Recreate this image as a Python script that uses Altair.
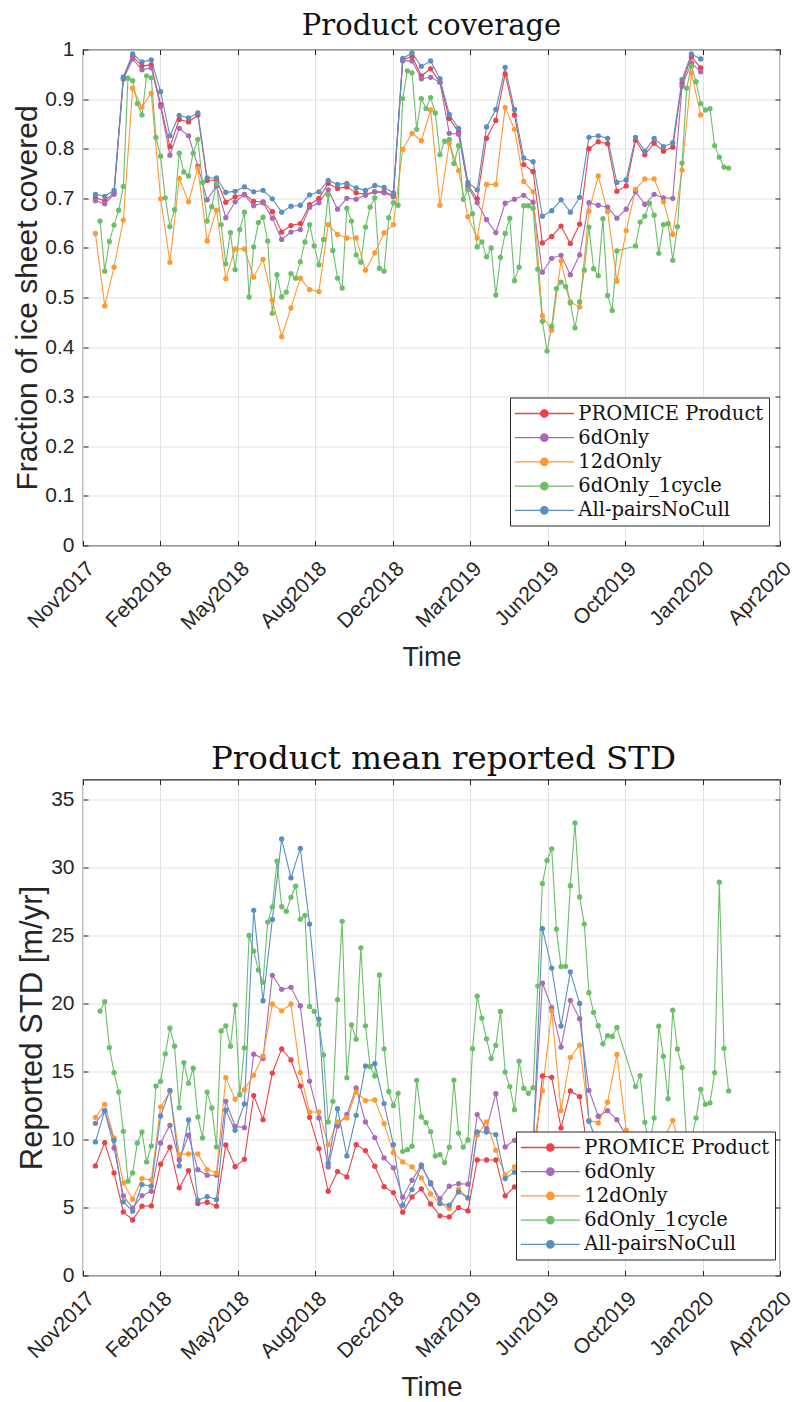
import altair as alt
import pandas as pd

SERIES = ["PROMICE Product", "6dOnly", "12dOnly", "6dOnly_1cycle", "All-pairsNoCull"]
COLORS = ["#e8434a", "#a86bb5", "#ff9a33", "#6cbf6a", "#5b8fbf"]
TICK_LABELS = ["Nov2017", "Feb2018", "May2018", "Aug2018", "Dec2018",
               "Mar2019", "Jun2019", "Oct2019", "Jan2020", "Apr2020"]
TICK_STEP = 99.8      # days between labelled ticks
FIRST_DAY = 16        # days after the first tick of the first acquisition
STEP_12 = 12          # 12-day repeat products
STEP_6 = 6            # 6-day repeat product (6dOnly_1cycle)
GREEN_INDEX = list(range(1, 113)) + list(range(116, 137))

# ---------------- Product coverage (fraction) ----------------
cov_promice = [0.701, 0.695, 0.711, 0.943, 0.986, 0.967, 0.969, 0.889, 0.804, 0.859, 0.854, 0.868, 0.736,
               0.737, 0.692, 0.703, 0.708, 0.694, 0.693, 0.673, 0.632, 0.645, 0.649, 0.687, 0.700,
               0.730, 0.720, 0.723, 0.711, 0.708, 0.713, 0.713, 0.706, 0.979, 0.986, 0.947, 0.961, 0.934,
               0.861, 0.834, 0.727, 0.699, 0.821, 0.857, 0.951, 0.868, 0.768, 0.754, 0.610, 0.623, 0.644,
               0.609, 0.648, 0.800, 0.814, 0.810, 0.714, 0.725, 0.817, 0.788, 0.811, 0.795, 0.803, 0.932,
               0.985, 0.963]
cov_6d = [0.695, 0.689, 0.708, 0.940, 0.981, 0.959, 0.963, 0.885, 0.787, 0.841, 0.826, 0.765, 0.697,
          0.725, 0.661, 0.693, 0.707, 0.685, 0.691, 0.660, 0.617, 0.632, 0.637, 0.682, 0.691,
          0.717, 0.678, 0.700, 0.698, 0.706, 0.713, 0.711, 0.703, 0.977, 0.977, 0.941, 0.944, 0.934,
          0.831, 0.829, 0.723, 0.691, 0.657, 0.631, 0.690, 0.698, 0.706, 0.692, 0.551, 0.579, 0.585,
          0.546, 0.586, 0.691, 0.686, 0.682, 0.660, 0.678, 0.713, 0.688, 0.708, 0.701, 0.700, 0.926,
          0.973, 0.955]
cov_12d = [0.629, 0.483, 0.561, 0.656, 0.922, 0.884, 0.912, 0.699, 0.571, 0.740, 0.693, 0.761, 0.614,
           0.676, 0.538, 0.598, 0.598, 0.541, 0.577, 0.495, 0.421, 0.479, 0.539, 0.516, 0.512,
           0.647, 0.627, 0.620, 0.620, 0.555, 0.590, 0.630, 0.647, 0.799, 0.831, 0.816, 0.878, 0.686,
           0.811, 0.756, 0.663, 0.620, 0.728, 0.728, 0.883, 0.839, 0.734, 0.713, 0.463, 0.434, 0.574,
           0.491, 0.481, 0.674, 0.745, 0.673, 0.533, 0.635, 0.718, 0.739, 0.739, 0.693, 0.627, 0.757,
           0.953, 0.868]
cov_allpairs = [0.708, 0.704, 0.716, 0.945, 0.991, 0.975, 0.979, 0.915, 0.826, 0.867, 0.862, 0.872, 0.741,
                0.741, 0.712, 0.714, 0.723, 0.713, 0.716, 0.699, 0.672, 0.684, 0.686, 0.707, 0.713,
                0.736, 0.728, 0.730, 0.721, 0.716, 0.726, 0.722, 0.711, 0.982, 0.993, 0.966, 0.977, 0.941,
                0.869, 0.841, 0.732, 0.717, 0.844, 0.879, 0.964, 0.879, 0.781, 0.774, 0.664, 0.675, 0.697,
                0.672, 0.702, 0.823, 0.826, 0.821, 0.732, 0.737, 0.823, 0.795, 0.821, 0.804, 0.812, 0.939,
                0.991, 0.981]
cov_6d_1cycle = [0.654, 0.553, 0.613, 0.646, 0.676, 0.724, 0.942, 0.937, 0.891, 0.868, 0.947, 0.943, 0.823,
                 0.785, 0.701, 0.643, 0.677, 0.791, 0.753, 0.745, 0.791, 0.819, 0.732, 0.654, 0.683, 0.730,
                 0.647, 0.568, 0.631, 0.556, 0.637, 0.672, 0.501, 0.602, 0.651, 0.662, 0.614, 0.468, 0.546,
                 0.501, 0.511, 0.548, 0.539, 0.572, 0.612, 0.647, 0.604, 0.566, 0.617,
                 0.707, 0.595, 0.539, 0.519, 0.680, 0.654, 0.586, 0.571, 0.642, 0.682, 0.701, 0.559, 0.553,
                 0.661, 0.691, 0.686, 0.901, 0.957, 0.953, 0.839, 0.901, 0.881, 0.903, 0.872, 0.788, 0.815,
                 0.819, 0.770, 0.806, 0.698, 0.717, 0.669, 0.602, 0.612, 0.582, 0.600, 0.505, 0.581, 0.629,
                 0.660, 0.534, 0.561, 0.685, 0.685, 0.680, 0.557, 0.452, 0.392, 0.442, 0.518, 0.531, 0.522,
                 0.489, 0.439, 0.491, 0.555, 0.642, 0.558, 0.544, 0.659, 0.504, 0.474, 0.594,
                 0.604, 0.652, 0.664, 0.690, 0.666, 0.589, 0.647, 0.649, 0.575, 0.643, 0.771, 0.922, 0.966,
                 0.935, 0.891, 0.878, 0.881, 0.806, 0.783, 0.763, 0.761]

# ---------------- Product mean reported STD (m/yr) ----------------
std_promice = [8.06, 9.78, 7.55, 4.68, 4.09, 5.10, 5.12, 8.19, 9.44, 6.45, 7.72, 5.29, 5.39, 5.10, 9.61,
               8.01, 8.55, 13.24, 11.47, 14.90, 16.67, 15.86, 13.94, 11.64, 9.34,
               6.20, 7.65, 7.25, 9.63, 9.19, 8.04, 6.54, 6.10, 4.66, 5.78, 6.37, 5.27, 4.39, 4.31, 5.00,
               4.75, 8.50, 8.50, 8.50, 5.86, 6.52, 6.90, 7.80, 14.68, 14.58, 10.86,
               13.58, 13.16, 8.60, 8.20, 8.40, 8.60, 7.60, 7.90, 8.30, 8.00, 8.10, 7.70, 8.20, 8.60, 8.30]
std_6d = [11.20, 12.13, 9.39, 5.86, 4.95, 5.88, 6.20, 9.75, 11.05, 8.50, 10.32, 7.79, 7.38, 7.38, 12.82,
          10.98, 10.88, 16.28, 15.96, 22.09, 21.06, 21.21, 19.85, 14.31, 11.59,
          7.99, 11.00, 11.86, 13.80, 11.30, 10.15, 8.65, 7.92, 5.76, 7.01, 8.14, 6.74, 5.66, 6.57, 6.76,
          6.72, 11.84, 10.81, 13.38, 9.46, 9.95, 9.20, 9.60, 21.52, 19.71, 16.81,
          20.25, 18.90, 13.63, 11.72, 12.13, 11.47, 10.30, 9.80, 9.50, 10.00, 9.60, 9.40, 9.00, 8.20, 8.60]
std_12d = [11.64, 12.60, 10.12, 6.81, 5.61, 7.13, 7.03, 12.40, 13.50, 8.90, 8.95, 8.95, 7.79, 7.55, 14.56,
           12.97, 13.68, 14.75, 16.16, 19.98, 19.48, 19.98, 14.93, 12.03, 12.03,
           9.63, 11.30, 11.59, 13.50, 12.87, 12.92, 11.18, 9.04, 8.36, 7.99, 7.18, 6.00, 5.29, 4.93, 6.35,
           5.71, 10.32, 11.30, 9.22, 7.38, 8.00, 8.60, 9.30, 13.60, 19.46, 12.13,
           16.05, 16.96, 11.42, 11.23, 12.75, 16.27, 10.69, 9.60, 9.20, 9.50, 10.00, 11.42, 9.00, 8.60, 9.00]
std_allpairs = [9.83, 12.13, 9.95, 5.42, 4.73, 6.69, 6.59, 11.74, 13.63, 8.06, 11.45, 5.54, 5.81, 5.59,
                12.16, 10.69, 12.62, 26.87, 20.22, 26.20, 32.12, 29.26, 31.43, 25.86, 18.87,
                8.26, 12.28, 8.80, 11.79, 15.42, 15.59, 12.65, 9.63, 5.17, 6.32, 8.04, 6.84, 5.29, 5.17,
                6.15, 5.71, 10.56, 10.56, 10.37, 7.13, 7.60, 8.30, 9.40, 25.52, 22.62, 18.36,
                22.35, 20.02, 11.35, 9.60, 9.40, 9.80, 9.20, 9.00, 9.50, 9.10, 9.30, 8.80, 9.00, 8.50, 8.80]
std_6d_1cycle = [19.46, 20.15, 16.77, 14.93, 13.50, 10.61, 6.94, 7.55, 9.75, 10.56, 8.36, 9.53, 13.94,
                 14.29, 16.31, 18.20, 16.87, 12.35, 15.67, 14.14, 15.25, 11.67, 10.12, 13.50, 12.33, 9.46,
                 18.00, 18.37, 16.87, 19.90, 13.30, 16.75, 25.02, 23.87, 22.49, 21.58, 26.01, 27.12, 30.49,
                 27.14, 26.80, 27.83, 28.65, 26.21, 26.50, 19.80, 19.43, 18.47, 16.23,
                 11.30, 12.82, 20.30, 26.06, 14.56, 18.45, 17.39, 24.11, 18.37, 15.37, 14.68, 22.12, 16.68,
                 13.54, 12.51, 13.41, 9.14, 9.26, 9.51, 14.36, 11.67, 11.25, 10.58, 8.80, 8.90, 8.31, 9.44,
                 14.38, 10.48, 9.45, 9.97, 16.69, 20.55, 18.94, 17.42, 15.97, 16.93, 19.43, 14.97, 13.90,
                 12.20, 15.77, 13.78, 13.41, 13.82, 21.30, 28.84, 30.54, 31.40, 25.49, 22.73, 22.75,
                 28.69, 33.30, 27.86, 25.86, 20.81, 19.36, 18.38, 17.05, 17.65, 17.59, 18.25,
                 13.90, 14.70, 11.27, 9.60, 11.59, 18.35, 16.13, 13.01, 19.52, 16.67, 15.30, 9.80, 10.00,
                 11.59, 13.70, 12.60, 12.70, 14.93, 28.94, 16.72, 13.58]


def build(red, purple, orange, green, blue):
    rows = []
    for name, vals in [(SERIES[0], red), (SERIES[1], purple), (SERIES[2], orange)]:
        rows += [{"series": name, "day": FIRST_DAY + STEP_12 * i, "value": v} for i, v in enumerate(vals)]
    rows += [{"series": SERIES[3], "day": FIRST_DAY + STEP_6 * j, "value": v}
             for j, v in zip(GREEN_INDEX, green)]
    rows += [{"series": SERIES[4], "day": FIRST_DAY + STEP_12 * i, "value": v} for i, v in enumerate(blue)]
    return pd.DataFrame(rows)


df_cov = build(cov_promice, cov_6d, cov_12d, cov_6d_1cycle, cov_allpairs)
df_std = build(std_promice, std_6d, std_12d, std_6d_1cycle, std_allpairs)

XTICKS = [round(TICK_STEP * i, 3) for i in range(len(TICK_LABELS))]
LABEL_EXPR = "[" + ",".join("'%s'" % s for s in TICK_LABELS) + "][round(datum.value / %s)]" % TICK_STEP

SYMBOL = ("M-2.95,0L2.95,0"
          "M0.37,0A0.37,0.37,0,1,1,-0.37,0A0.37,0.37,0,1,1,0.37,0"
          "M0.25,0A0.25,0.25,0,1,1,-0.25,0A0.25,0.25,0,1,1,0.25,0"
          "M0.13,0A0.13,0.13,0,1,1,-0.13,0A0.13,0.13,0,1,1,0.13,0"
          "M0.03,0A0.03,0.03,0,1,1,-0.03,0A0.03,0.03,0,1,1,0.03,0")

W, H = 697, 496


def panel(df, title, ytitle, ydom, yvals, lx, ly, title_size, title_offset, title_dx,
          ytitle_size, xtitle_size, xtitle_pad):
    xsc = alt.Scale(domain=[0, XTICKS[-1]], nice=False, zero=False)
    ysc = alt.Scale(domain=ydom, nice=False, zero=False)
    lines = alt.Chart(df).mark_line(
        strokeWidth=1.1,
        point=alt.OverlayMarkDef(filled=True, size=28, opacity=1),
    ).encode(
        x=alt.X("day:Q", scale=xsc, axis=alt.Axis(
            orient="bottom", values=XTICKS, labelExpr=LABEL_EXPR, title="Time", labelAngle=315,
            labelAlign="right", labelBaseline="top", offset=-5, tickSize=5, domain=False,
            grid=True, labelPadding=12, titlePadding=xtitle_pad, titleFontSize=xtitle_size,
            labelFlush=False, labelOverlap=False)),
        y=alt.Y("value:Q", scale=ysc, axis=alt.Axis(
            orient="left", values=yvals, format="~g", title=ytitle, offset=-5, tickSize=5,
            domain=False, grid=True, labelPadding=9, titlePadding=2, titleFontSize=ytitle_size,
            labelFlush=False)),
        color=alt.Color("series:N", scale=alt.Scale(domain=SERIES, range=COLORS),
                        legend=alt.Legend(
                            title=None, orient="none", legendX=lx, legendY=ly,
                            symbolType=SYMBOL, symbolSize=400, symbolStrokeWidth=1.3,
                            symbolOffset=18.35, labelOffset=23, rowPadding=3.2, padding=5,
                            labelFont="DejaVu Serif", labelFontSize=19.5, labelColor="#111",
                            strokeColor="#262626", fillColor="white", labelLimit=400)),
    )
    frame = alt.Chart(df).mark_point(opacity=0).encode(
        x=alt.X("day:Q", scale=xsc, axis=alt.Axis(
            orient="top", values=XTICKS, labels=False, title=None, offset=-5, tickSize=5,
            domain=False, grid=False)),
        y=alt.Y("value:Q", scale=ysc, axis=alt.Axis(
            orient="right", values=yvals, labels=False, title=None, offset=-5, tickSize=5,
            domain=False, grid=False)),
    )
    return alt.layer(lines, frame).properties(
        width=W, height=H,
        title=alt.TitleParams(title, font="DejaVu Serif", fontSize=title_size, fontWeight="normal",
                              color="#111", frame="group", anchor="middle", offset=title_offset,
                              dx=title_dx),
    )


top = panel(df_cov, "Product coverage", "Fraction of ice sheet covered", [0, 1],
            [round(0.1 * i, 1) for i in range(11)], 427, 348, 29, -2, 0, 30, 27, 11)
bottom = panel(df_std, "Product mean reported STD", "Reported STD [m/yr]", [0, 36.5],
               [0, 5, 10, 15, 20, 25, 30, 35], 433, 352, 32.5, 4, 12, 31, 28, 10)

chart = alt.vconcat(top, bottom, spacing=70).resolve_legend(color="independent").properties(
    padding={"left": 12, "top": 10.5, "right": 0, "bottom": 0}
).configure_axis(
    labelFont="Liberation Sans", labelFontSize=21, labelColor="#262626",
    titleFont="Liberation Sans", titleFontWeight="normal", titleColor="#262626",
    tickColor="#262626", gridColor="#e2e2e2", gridOpacity=1,
).configure_view(stroke="#262626", strokeWidth=1.2)

chart.save("out.html", embed_options={"renderer": "svg", "actions": False})
